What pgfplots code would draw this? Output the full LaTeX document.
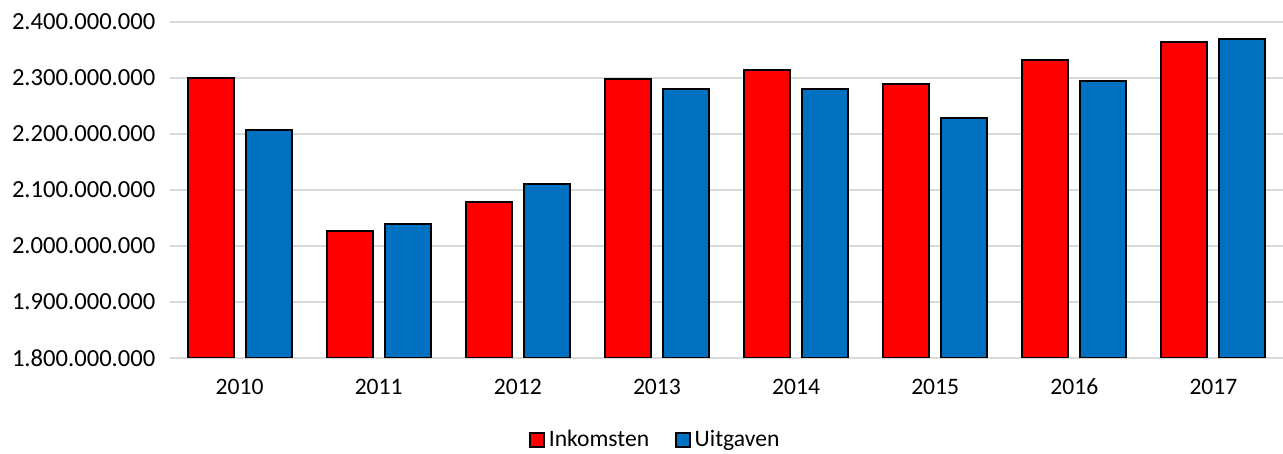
\documentclass[border=0pt]{standalone}
\usepackage{fontspec}
\setmainfont{Carlito}
\usepackage{pgfplots}
\pgfplotsset{compat=1.18}

\definecolor{inkred}{RGB}{255,0,0}
\definecolor{uitblue}{RGB}{0,112,192}
\definecolor{gridgray}{RGB}{217,217,217}

\begin{document}
\begin{tikzpicture}
\fontsize{11.8}{14}\selectfont
\path[use as bounding box] (0,0) rectangle (641.5pt,227pt);
\begin{axis}[
  at={(85pt,48pt)}, anchor=south west,
  width=556.5pt, height=168pt, scale only axis,
  axis line style={draw=none},
  ybar=6pt, bar width=23pt,
  xmin=-0.5, xmax=7.5,
  ymin=1800000000, ymax=2400000000,
  scaled y ticks=false,
  xtick={0,...,7},
  xticklabels={2010,2011,2012,2013,2014,2015,2016,2017},
  ytick={1800000000,1900000000,2000000000,2100000000,2200000000,2300000000,2400000000},
  yticklabels={1.800.000.000,1.900.000.000,2.000.000.000,2.100.000.000,2.200.000.000,2.300.000.000,2.400.000.000},
  major tick length=0pt,
  tick style={draw=none},
  ymajorgrids,
  grid style={gridgray, line width=0.8pt},
  yticklabel style={font=\fontsize{12.3}{14}\selectfont, xshift=-3.2pt},
  xticklabel style={font=\fontsize{11.8}{14}\selectfont, text height=7.6pt, text depth=0pt, yshift=-6.6pt},
  legend style={at={(0.437,-0.244)}, anchor=center, draw=none, legend columns=2,
    font=\fontsize{11.8}{14}\selectfont,
    /tikz/every even column/.append style={column sep=11pt}},
  legend image code/.code={\draw[#1, draw=black, line width=0.75pt] (-1pt,-3.5pt) rectangle (6pt,3.5pt);},
]
\addplot[fill=inkred, draw=black, line width=1pt] coordinates {
  (0,2300000000) (1,2027000000) (2,2079000000) (3,2298000000)
  (4,2314000000) (5,2290000000) (6,2332000000) (7,2365000000)
};
\addlegendentry{Inkomsten}
\addplot[fill=uitblue, draw=black, line width=1pt] coordinates {
  (0,2208000000) (1,2039000000) (2,2111000000) (3,2281000000)
  (4,2281000000) (5,2228000000) (6,2295000000) (7,2370000000)
};
\addlegendentry{Uitgaven}
\end{axis}
\end{tikzpicture}
\end{document}
